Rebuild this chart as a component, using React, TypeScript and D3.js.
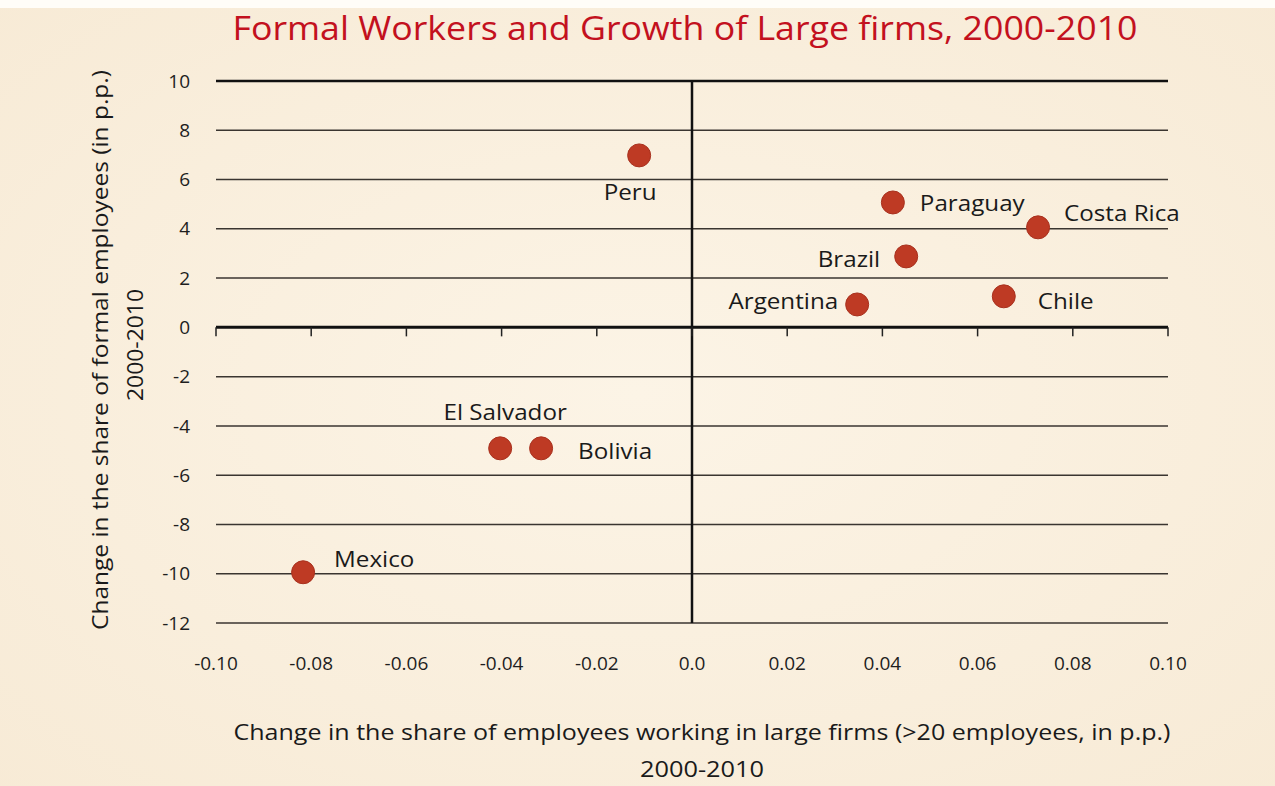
import React from "react";
import * as d3 from "d3";

const countries = ["Peru", "Paraguay", "Costa Rica", "Brazil", "Argentina", "Chile", "El Salvador", "Bolivia", "Mexico"];
const largeFirmChange = [-0.0111, 0.0422, 0.0727, 0.045, 0.0347, 0.0655, -0.0403, -0.0317, -0.0817];
const formalChange = [6.98, 5.07, 4.06, 2.88, 0.93, 1.26, -4.91, -4.91, -9.94];
const xTicks = [-0.1, -0.08, -0.06, -0.04, -0.02, 0, 0.02, 0.04, 0.06, 0.08, 0.1];
const xTickLabels = ["-0.10", "-0.08", "-0.06", "-0.04", "-0.02", "0.0", "0.02", "0.04", "0.06", "0.08", "0.10"];
const yTicks = [10, 8, 6, 4, 2, 0, -2, -4, -6, -8, -10, -12];
const yTickLabels = ["10", "8", "6", "4", "2", "0", "-2", "-4", "-6", "-8", "-10", "-12"];

const title = "Formal Workers and Growth of Large firms, 2000-2010";
const xTitle = ["Change in the share of employees working in large firms (>20 employees, in p.p.)", "2000-2010"];
const yTitle = ["Change in the share of formal employees (in p.p.)", "2000-2010"];

// label placement (style only)
const labelPlace: Record<string, { dx: number; dy: number; anchor: string }> = {
  "Peru": { dx: -9, dy: 37, anchor: "middle" },
  "Paraguay": { dx: 27, dy: 1, anchor: "start" },
  "Costa Rica": { dx: 26, dy: -14, anchor: "start" },
  "Brazil": { dx: -26, dy: 3, anchor: "end" },
  "Argentina": { dx: -19, dy: -3, anchor: "end" },
  "Chile": { dx: 34, dy: 5, anchor: "start" },
  "El Salvador": { dx: 5, dy: -36, anchor: "middle" },
  "Bolivia": { dx: 37, dy: 3, anchor: "start" },
  "Mexico": { dx: 31, dy: -13, anchor: "start" },
};

const W = 1275, H = 786;
const font = "'Open Sans', sans-serif";

export default function App() {
  const x = d3.scaleLinear().domain([-0.1, 0.1]).range([216, 1168]);
  const y = d3.scaleLinear().domain([-12, 10]).range([623, 81]);

  return (
    <svg width={W} height={H} style={{ position: "absolute", left: 0, top: 0 }} fontFamily={font}>
      <defs>
        <radialGradient id="bg" cx="50%" cy="50%" r="75%">
          <stop offset="0%" stopColor="#FCF4E6" />
          <stop offset="100%" stopColor="#F7EAD5" />
        </radialGradient>
      </defs>
      <rect x={0} y={0} width={W} height={H} fill="url(#bg)" />
      <rect x={0} y={0} width={W} height={8} fill="#FFFDF8" />

      <text x={685} y={40} textAnchor="middle" fontSize={32} fill="#C3111E" textLength={905} lengthAdjust="spacingAndGlyphs">{title}</text>

      {/* horizontal gridlines */}
      {yTicks.map((t) => (
        <line key={"g" + t} x1={x(-0.1)} x2={x(0.1)} y1={y(t)} y2={y(t)}
          stroke={t === 0 || t === 10 ? "#111" : "#3a3530"}
          strokeWidth={t === 0 ? 3 : t === 10 ? 2.5 : 1.5} />
      ))}
      {/* vertical zero line */}
      <line x1={x(0)} x2={x(0)} y1={y(10)} y2={y(-12)} stroke="#111" strokeWidth={2.5} />
      {/* x ticks on zero line */}
      {xTicks.map((t) => (
        <line key={"t" + t} x1={x(t)} x2={x(t)} y1={y(0)} y2={y(0) + 9} stroke="#222" strokeWidth={1.5} />
      ))}

      {/* y tick labels */}
      {yTicks.map((t, i) => (
        <text key={"yl" + t} x={190} y={y(t)} dy="0.35em" textAnchor="end" fontSize={19} fill="#1e1e1e">{yTickLabels[i]}</text>
      ))}
      {/* x tick labels */}
      {xTicks.map((t, i) => (
        <text key={"xl" + t} x={x(t)} y={663} dy="0.35em" textAnchor="middle" fontSize={19} fill="#1e1e1e">{xTickLabels[i]}</text>
      ))}

      {/* points */}
      {countries.map((c, i) => (
        <circle key={c} cx={x(largeFirmChange[i])} cy={y(formalChange[i])} r={11.5} fill="#BE3A24" stroke="#A8311E" strokeWidth={1} />
      ))}
      {countries.map((c, i) => {
        const p = labelPlace[c];
        return (
          <g key={"l" + c} transform={`translate(${x(largeFirmChange[i]) + p.dx},${y(formalChange[i]) + p.dy}) scale(1.1,1)`}>
            <text x={0} y={0} dy="0.35em" textAnchor={p.anchor} fontSize={22} fill="#1a1a1a">{c}</text>
          </g>
        );
      })}

      {/* axis titles */}
      <text x={702} y={733} dy="0.35em" textAnchor="middle" fontSize={21} fill="#1a1a1a" textLength={937} lengthAdjust="spacingAndGlyphs">{xTitle[0]}</text>
      <text x={702} y={769} dy="0.35em" textAnchor="middle" fontSize={22} fill="#1a1a1a" textLength={124} lengthAdjust="spacingAndGlyphs">{xTitle[1]}</text>
      <g transform="translate(101,350) rotate(-90)">
        <text x={0} y={0} dy="0.35em" textAnchor="middle" fontSize={21} fill="#1a1a1a" textLength={560} lengthAdjust="spacingAndGlyphs">{yTitle[0]}</text>
      </g>
      <g transform="translate(136,345) rotate(-90)">
        <text x={0} y={0} dy="0.35em" textAnchor="middle" fontSize={21} fill="#1a1a1a" textLength={112} lengthAdjust="spacingAndGlyphs">{yTitle[1]}</text>
      </g>
    </svg>
  );
}
